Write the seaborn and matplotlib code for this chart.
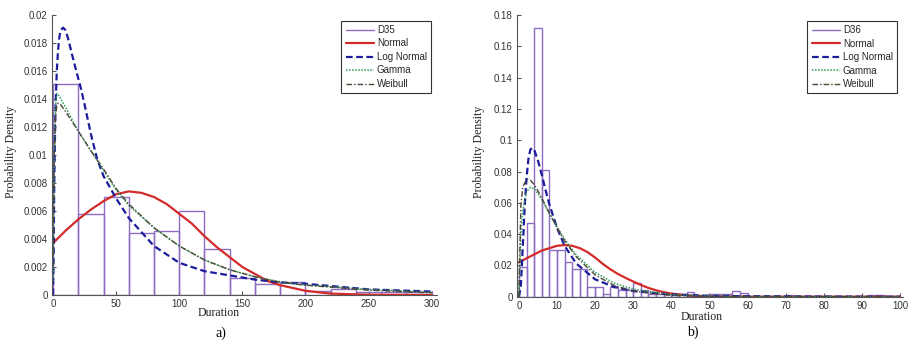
import matplotlib
matplotlib.use('Agg')
import matplotlib.pyplot as plt
import seaborn as sns
import numpy as np
import pandas as pd
from matplotlib.lines import Line2D
from matplotlib.ticker import FuncFormatter

# ---------------------------------------------------------
# Panel a) : D35
# ---------------------------------------------------------
a_bins = [0, 20, 40, 60, 80, 100, 120, 140, 160, 180, 200, 220, 240, 260, 280, 300]
a_hist = [0.0151, 0.0058, 0.0070, 0.0044, 0.0046, 0.0060, 0.0033, 0.0012,
          0.0008, 0.0009, 0.0003, 0.0004, 0.0002, 0.0002, 0.0002]

a_normal_x = [0, 10, 20, 30, 40, 50, 60, 70, 80, 90, 100, 110, 120, 130, 140,
              150, 160, 170, 180, 200, 220, 250, 300]
a_normal_y = [0.0037, 0.0046, 0.0054, 0.0061, 0.0067, 0.0072, 0.0074, 0.0073,
              0.0070, 0.0065, 0.0058, 0.0051, 0.0042, 0.0034, 0.0027, 0.0020,
              0.0015, 0.0010, 0.0007, 0.0003, 0.0001, 0.00002, 0.0]

a_lognorm_x = [0, 0.5, 1, 1.5, 2, 3, 4, 5, 6, 8, 10, 12, 15, 19, 22, 25, 30, 35,
               40, 50, 60, 80, 100, 120, 140, 160, 180, 200, 250, 300]
a_lognorm_y = [0.0, 0.0030, 0.0080, 0.0110, 0.0135, 0.0160, 0.0175, 0.0184,
               0.0189, 0.0191, 0.0189, 0.0183, 0.0172, 0.0158, 0.0148, 0.0136,
               0.0115, 0.0097, 0.0085, 0.0069, 0.0055, 0.0035, 0.0023, 0.0017,
               0.0014, 0.0011, 0.0009, 0.0008, 0.0004, 0.00025]

a_gamma_x = [0, 0.5, 1, 2, 3, 5, 10, 20, 30, 35, 40, 50, 60, 80, 100, 120, 140,
             160, 180, 200, 250, 300]
a_gamma_y = [0.001, 0.006, 0.0100, 0.0135, 0.0144, 0.0142, 0.0134, 0.0117,
             0.0103, 0.0096, 0.0089, 0.0075, 0.0064, 0.0048, 0.0035, 0.0025,
             0.0018, 0.0013, 0.00095, 0.00072, 0.0004, 0.0002]

a_weibull_x = [0, 0.5, 1, 2, 3, 4, 6, 10, 20, 30, 40, 50, 60, 80, 100, 120, 140,
               160, 180, 200, 250, 300]
a_weibull_y = [0.002, 0.007, 0.0100, 0.0128, 0.0135, 0.0137, 0.0136, 0.0131,
               0.0117, 0.0103, 0.0090, 0.0076, 0.0065, 0.0048, 0.0035, 0.0025,
               0.0018, 0.0013, 0.0009, 0.0007, 0.00035, 0.00015]

# ---------------------------------------------------------
# Panel b) : D36
# ---------------------------------------------------------
b_bins = list(range(0, 102, 2))
b_hist = [0.019, 0.047, 0.172, 0.081, 0.030, 0.030, 0.022, 0.018, 0.018, 0.0064,
          0.0064, 0.002, 0.006, 0.004, 0.004, 0.0085, 0.004, 0.002, 0.002, 0.0015,
          0.001, 0.0015, 0.003, 0.001, 0.0005, 0.002, 0.002, 0.002, 0.0036, 0.0025,
          0, 0, 0, 0, 0, 0.001, 0, 0, 0, 0,
          0, 0, 0, 0, 0, 0, 0.0012, 0.0012, 0, 0.0005]

b_normal_x = [0, 2, 4, 6, 8, 10, 12, 14, 16, 18, 20, 22, 24, 26, 28, 30, 32, 34,
              36, 38, 40, 45, 50, 60, 100]
b_normal_y = [0.022, 0.0245, 0.027, 0.0295, 0.031, 0.0325, 0.033, 0.0325, 0.031,
              0.0285, 0.025, 0.021, 0.0175, 0.0145, 0.012, 0.0097, 0.0075, 0.0056,
              0.0041, 0.0029, 0.002, 0.0007, 0.0002, 0.0, 0.0]

b_lognorm_x = [0, 0.5, 1, 1.5, 2, 2.5, 3, 3.5, 4, 5, 6, 7, 8, 10, 12, 15, 20, 25,
               30, 40, 50, 60, 80, 100]
b_lognorm_y = [0.0, 0.0065, 0.031, 0.057, 0.076, 0.088, 0.094, 0.095, 0.094, 0.087,
               0.078, 0.068, 0.059, 0.044, 0.0325, 0.0213, 0.0111, 0.0062, 0.0036,
               0.0014, 0.0006, 0.0003, 0.0001, 0.0]

b_gamma_x = [0, 0.5, 1, 2, 3, 4, 5, 6, 8, 10, 12, 15, 20, 25, 30, 40, 50, 60, 100]
b_gamma_y = [0.0, 0.040, 0.055, 0.067, 0.070, 0.069, 0.066, 0.062, 0.053, 0.0446,
             0.0367, 0.0269, 0.0155, 0.0087, 0.0048, 0.0014, 0.0004, 0.0001, 0.0]

b_weibull_x = [0, 0.5, 1, 2, 3, 4, 5, 6, 8, 10, 12, 15, 20, 25, 30, 40, 50, 100]
b_weibull_y = [0.0, 0.058, 0.070, 0.075, 0.0745, 0.0716, 0.0676, 0.063, 0.0534,
               0.0441, 0.0358, 0.0256, 0.0139, 0.0072, 0.0036, 0.0008, 0.0002, 0.0]

# ---------------------------------------------------------
# Styling
# ---------------------------------------------------------
sns.set_style('ticks')
plt.rcParams['font.family'] = ['Liberation Sans', 'DejaVu Sans']

PURPLE = '#8e6cc4'
RED = '#d42a2a'
BLUE = '#1c1c9c'
GREEN = '#2f9a58'
BROWN = '#4e4634'
AXIS = '#555555'

styles = {
    'Normal': dict(color=RED, linewidth=1.6, linestyle='-'),
    'Log Normal': dict(color=BLUE, linewidth=1.6, linestyle=(0, (3, 1.6))),
    'Gamma': dict(color=GREEN, linewidth=1.1, linestyle=(0, (1, 1))),
    'Weibull': dict(color=BROWN, linewidth=1.0, linestyle=(0, (4, 1.5, 1, 1.5))),
}

fig = plt.figure(figsize=(9.17, 3.42), dpi=100)

W, H = 917.0, 342.0
ax_a = fig.add_axes([52 / W, 47 / H, 385 / W, 280 / H])
ax_b = fig.add_axes([517 / W, 45.3 / H, 386 / W, 281.7 / H])


def draw_panel(ax, bins, heights, curves, hist_label):
    # one row per bin, weighted by its density so the bar heights come out as read
    hist_df = pd.DataFrame({
        'mid': [(lo + hi) / 2 for lo, hi in zip(bins[:-1], bins[1:])],
        'density': heights,
    })
    sns.histplot(data=hist_df, x='mid', weights='density', bins=list(bins), ax=ax,
                 fill=False, element='bars', color=PURPLE, linewidth=1.0)
    for name, (xs, ys) in curves.items():
        sns.lineplot(x=xs, y=ys, ax=ax, **styles[name])
    ax.set_xlabel('')
    ax.set_ylabel('')
    sns.despine(ax=ax)
    for side in ('left', 'bottom'):
        ax.spines[side].set_color(AXIS)
        ax.spines[side].set_linewidth(0.8)
    ax.tick_params(direction='in', length=3, width=0.8, color=AXIS,
                   labelsize=7, labelcolor='#333333', pad=3)
    ax.yaxis.set_major_formatter(FuncFormatter(lambda v, p: f'{v:g}'))

    handles = [Line2D([], [], color=PURPLE, linewidth=1.0)]
    handles += [Line2D([], [], **styles[n]) for n in curves]
    labels = [hist_label] + list(curves.keys())
    leg = ax.legend(handles, labels, loc='upper right', fontsize=7,
                    handlelength=2.9, handletextpad=0.3, labelspacing=0.36,
                    borderpad=0.45, borderaxespad=0, fancybox=False,
                    framealpha=1, bbox_to_anchor=(0.985, 0.98))
    leg.get_frame().set_edgecolor('#333333')
    leg.get_frame().set_linewidth(0.8)


draw_panel(ax_a, a_bins, a_hist, {
    'Normal': (a_normal_x, a_normal_y),
    'Log Normal': (a_lognorm_x, a_lognorm_y),
    'Gamma': (a_gamma_x, a_gamma_y),
    'Weibull': (a_weibull_x, a_weibull_y),
}, 'D35')
ax_a.set_xlim(-0.8, 304.2)
ax_a.set_ylim(0, 0.02)
ax_a.set_xticks(range(0, 301, 50))
ax_a.set_yticks(np.arange(0, 0.0201, 0.002))

draw_panel(ax_b, b_bins, b_hist, {
    'Normal': (b_normal_x, b_normal_y),
    'Log Normal': (b_lognorm_x, b_lognorm_y),
    'Gamma': (b_gamma_x, b_gamma_y),
    'Weibull': (b_weibull_x, b_weibull_y),
}, 'D36')
ax_b.set_xlim(-0.5, 100.8)
ax_b.set_ylim(0, 0.18)
ax_b.set_xticks(range(0, 101, 10))
ax_b.set_yticks(np.arange(0, 0.181, 0.02))

serif = ['Liberation Serif', 'DejaVu Serif']
fig.text(11 / W, 1 - 152 / H, 'Probability Density', rotation=90, ha='center',
         va='center', fontsize=8.5, family=serif, color='#222222')
fig.text(479 / W, 1 - 152 / H, 'Probability Density', rotation=90, ha='center',
         va='center', fontsize=8.5, family=serif, color='#222222')
fig.text(219 / W, 1 - 313 / H, 'Duration', ha='center', va='center',
         fontsize=8.5, family=serif, color='#222222')
fig.text(702 / W, 1 - 316.5 / H, 'Duration', ha='center', va='center',
         fontsize=8.5, family=serif, color='#222222')
fig.text(221 / W, 1 - 333 / H, 'a)', ha='center', va='center',
         fontsize=10, family=serif, color='black')
fig.text(693 / W, 1 - 332 / H, 'b)', ha='center', va='center',
         fontsize=10, family=serif, color='black')

fig.savefig('out.png', dpi=100)
